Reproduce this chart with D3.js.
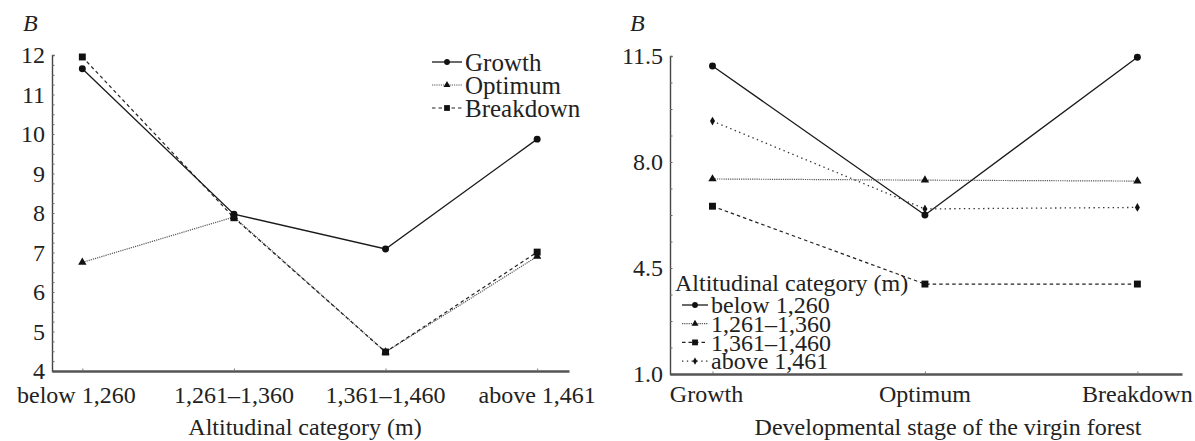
<!DOCTYPE html>
<html>
<head>
<meta charset="utf-8">
<script src="https://cdn.jsdelivr.net/npm/d3@7"></script>
<style>
  body { margin: 0; background: #fff; }
  svg { display: block; }
  text { font-family: 'Liberation Serif', 'Times New Roman', serif; fill: #222; }
</style>
</head>
<body>
<div id="chart"></div>
<script>
// Categories
const altCats = ['below 1,260', '1,261\u20131,360', '1,361\u20131,460', 'above 1,461'];
const stages = ['Growth', 'Optimum', 'Breakdown'];

// Left panel: B by altitude, one line per stage
const growthByAlt = [11.65, 7.97, 7.09, 9.87];
const optimumByAlt = [6.75, 7.9, 4.48, 6.9];
const breakdownByAlt = [11.95, 7.88, 4.48, 7.01];

// Right panel: B by stage, one line per altitude category
const below1260 = [11.17, 6.25, 11.46];
const alt1261 = [7.44, 7.4, 7.37];
const alt1361 = [6.54, 3.97, 3.97];
const above1461 = [9.35, 6.45, 6.5];

const leftTicks = [4, 5, 6, 7, 8, 9, 10, 11, 12];
const rightTicks = [1.0, 4.5, 8.0, 11.5];

const W = 1195, H = 441;
const FS = 24;
const svg = d3.select('#chart').append('svg')
    .attr('width', W)
    .attr('height', H);

const styles = {
    solid: {dash: null, color: '#1a1a1a', width: 1.3},
    dense: {dash: '1.2,1', color: '#555', width: 1.2},
    dashed: {dash: '3.5,3', color: '#222', width: 1.2},
    sparse: {dash: '1.4,3.4', color: '#333', width: 1.3}
};

function drawPanel(opt) {
    const g = svg.append('g');

    const x = d3.scaleLinear()
        .domain([-0.2, opt.cats.length - 1 + 0.21])
        .range([opt.x0, opt.x1]);
    const y = d3.scaleLinear()
        .domain(opt.yDomain)
        .range([opt.y0, opt.y1]);

    // y axis with minor ticks inside
    const yAxis = g.append('g')
        .attr('transform', `translate(${opt.x0},0)`)
        .call(d3.axisRight(y).tickValues(opt.minor).tickSize(2.5).tickFormat(''));
    yAxis.select('.domain').attr('stroke', '#444').attr('stroke-width', 1.4);
    yAxis.selectAll('.tick line').attr('stroke', '#666');

    g.selectAll('text.ylab')
        .data(opt.ticks)
      .enter().append('text')
        .attr('class', 'ylab')
        .attr('x', opt.x0 - 7)
        .attr('y', d => y(d))
        .attr('dy', '0.34em')
        .attr('text-anchor', 'end')
        .style('font-size', FS + 'px')
        .text(opt.fmt);

    // x axis
    const xAxis = g.append('g')
        .attr('transform', `translate(0,${opt.y0})`)
        .call(d3.axisTop(x).tickValues(d3.range(opt.cats.length)).tickSize(2.5).tickSizeOuter(0).tickFormat(''));
    xAxis.select('.domain').attr('stroke', '#555').attr('stroke-width', 2.4);
    xAxis.selectAll('.tick line').attr('stroke', '#777');

    g.selectAll('text.xlab')
        .data(opt.cats)
      .enter().append('text')
        .attr('class', 'xlab')
        .attr('x', (d, i) => x(i) - (i === 0 ? 6 : 0))
        .attr('y', opt.labY)
        .attr('text-anchor', 'middle')
        .style('font-size', FS + 'px')
        .text(d => d);

    g.append('text')
        .attr('x', opt.titleX)
        .attr('y', 435)
        .attr('text-anchor', 'middle')
        .style('font-size', FS + 'px')
        .text(opt.title);

    g.append('text')
        .attr('x', opt.bX)
        .attr('y', 31)
        .style('font-size', FS + 'px')
        .style('font-style', 'italic')
        .text('B');

    // series
    const line = d3.line()
        .x((d, i) => x(i))
        .y(d => y(d));

    opt.series.forEach(s => {
        const st = styles[s.style];
        g.append('path')
            .datum(s.values)
            .attr('d', line)
            .attr('fill', 'none')
            .attr('stroke', st.color)
            .attr('stroke-width', st.width)
            .attr('stroke-dasharray', st.dash);

        g.selectAll(null)
            .data(s.values)
          .enter().append('path')
            .attr('transform', (d, i) => `translate(${x(i)},${y(d)})`)
            .attr('d', d3.symbol().type(s.symbol).size(s.size))
            .attr('fill', '#111');
    });

    // legend
    const leg = g.append('g')
        .attr('transform', `translate(${opt.legX},${opt.legY})`);

    if (opt.legTitle) {
        leg.append('text')
            .attr('x', -7)
            .attr('y', -22)
            .attr('dy', '0.34em')
            .style('font-size', FS + 'px')
            .text(opt.legTitle);
    }

    opt.series.forEach((s, i) => {
        const st = styles[s.style];
        const row = leg.append('g')
            .attr('transform', `translate(0,${i * opt.legStep})`);
        row.append('line')
            .attr('x1', 0)
            .attr('x2', opt.legLen)
            .attr('stroke', st.color)
            .attr('stroke-width', st.width)
            .attr('stroke-dasharray', st.dash);
        row.append('path')
            .attr('transform', `translate(${opt.legLen / 2},0)`)
            .attr('d', d3.symbol().type(s.symbol).size(s.size * 0.7))
            .attr('fill', '#111');
        row.append('text')
            .attr('x', opt.legLen + 3)
            .attr('dy', '0.34em')
            .style('font-size', opt.legFS + 'px')
            .text(s.name);
    });
}

drawPanel({
    cats: altCats,
    x0: 52, x1: 569,
    y0: 371, y1: 55,
    yDomain: [4, 12],
    ticks: leftTicks,
    minor: d3.range(4, 12.01, 0.25),
    fmt: d => d,
    labY: 403,
    title: 'Altitudinal category (m)',
    titleX: 305,
    bX: 23,
    legX: 432, legY: 62, legStep: 23, legLen: 30, legFS: 25,
    series: [
        {name: stages[0], values: growthByAlt, style: 'solid', symbol: d3.symbolCircle, size: 38},
        {name: stages[1], values: optimumByAlt, style: 'dense', symbol: d3.symbolTriangle, size: 30},
        {name: stages[2], values: breakdownByAlt, style: 'dashed', symbol: d3.symbolSquare, size: 48}
    ]
});

drawPanel({
    cats: stages,
    x0: 670, x1: 1182,
    y0: 374, y1: 56,
    yDomain: [1, 11.5],
    ticks: rightTicks,
    minor: d3.range(1, 11.51, 0.875),
    fmt: d => d.toFixed(1),
    labY: 402,
    title: 'Developmental stage of the virgin forest',
    titleX: 948,
    bX: 630,
    legTitle: 'Altitudinal category (m)',
    legX: 682, legY: 305, legStep: 18.7, legLen: 26, legFS: 24,
    series: [
        {name: altCats[0], values: below1260, style: 'solid', symbol: d3.symbolCircle, size: 38},
        {name: altCats[1], values: alt1261, style: 'dense', symbol: d3.symbolTriangle, size: 30},
        {name: altCats[2], values: alt1361, style: 'dashed', symbol: d3.symbolSquare, size: 48},
        {name: altCats[3], values: above1461, style: 'sparse', symbol: d3.symbolDiamond, size: 22}
    ]
});
</script>
</body>
</html>
